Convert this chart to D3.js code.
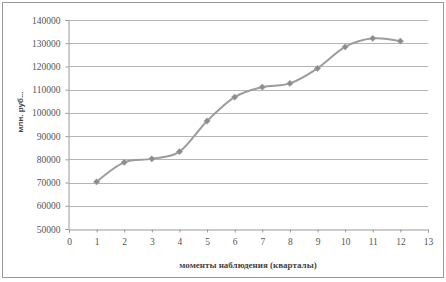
<!DOCTYPE html>
<html>
<head>
<meta charset="utf-8">
<script src="https://cdn.jsdelivr.net/npm/d3@7"></script>
<style>
  body { margin: 0; background: #fff; }
  svg { display: block; }
</style>
</head>
<body>
<svg width="446" height="282"></svg>
<script>
// quarters and values (млн. руб.)
const quarters = [1, 2, 3, 4, 5, 6, 7, 8, 9, 10, 11, 12];
const values = [70300, 78700, 80200, 83300, 96500, 106800, 111100, 112700, 119200, 128400, 132100, 130900];
const xTicks = [0, 1, 2, 3, 4, 5, 6, 7, 8, 9, 10, 11, 12, 13];
const yTicks = [50000, 60000, 70000, 80000, 90000, 100000, 110000, 120000, 130000, 140000];

const svg = d3.select("svg");
const plotLeft = 69, plotRight = 428, plotTop = 20, plotBottom = 229;

// outer frame
svg.append("rect")
    .attr("x", 2.5).attr("y", 2.5)
    .attr("width", 441).attr("height", 275)
    .attr("fill", "#fff")
    .attr("stroke", "#9a9a9a");

const x = d3.scaleLinear().domain([0, 13]).range([plotLeft, plotRight]);
const y = d3.scaleLinear().domain([50000, 140000]).range([plotBottom, plotTop]);

// gridlines
svg.append("g")
    .selectAll("line")
    .data(yTicks.slice(1))
    .enter().append("line")
    .attr("x1", plotLeft).attr("x2", plotRight)
    .attr("y1", d => Math.round(y(d)) + 0.5)
    .attr("y2", d => Math.round(y(d)) + 0.5)
    .attr("stroke", "#b5b5b5");

const yAxis = svg.append("g")
    .attr("transform", `translate(${plotLeft - 0.5},0)`)
    .call(d3.axisLeft(y).tickValues(yTicks).tickSize(3).tickFormat(d3.format("d")));

const xAxis = svg.append("g")
    .attr("transform", `translate(0,${plotBottom + 0.5})`)
    .call(d3.axisBottom(x).tickValues(xTicks).tickSize(3).tickFormat(d3.format("d")));

[yAxis, xAxis].forEach(a => {
    a.select(".domain").attr("stroke", "#999");
    a.selectAll(".tick line").attr("stroke", "#999");
    a.selectAll("text")
        .attr("fill", "#555")
        .style("font-family", "'Liberation Serif', 'DejaVu Serif', serif")
        .style("font-size", "9.5px");
});
yAxis.selectAll("text").attr("x", -8);
xAxis.selectAll("text").attr("y", 9);

// smoothed line
const line = d3.line()
    .x((d, i) => x(quarters[i]))
    .y(d => y(d))
    .curve(d3.curveCatmullRom.alpha(0));

svg.append("path")
    .datum(values)
    .attr("d", line)
    .attr("fill", "none")
    .attr("stroke", "#9c9c9c")
    .attr("stroke-width", 2);

// diamond markers (square turned 45 degrees)
svg.append("g")
    .selectAll("path")
    .data(values)
    .enter().append("path")
    .attr("transform", (d, i) => `translate(${x(quarters[i])},${y(d)}) rotate(45)`)
    .attr("d", d3.symbol().type(d3.symbolSquare).size(20))
    .attr("fill", "#8c8c8c")
    .attr("stroke", "#a5a5a5")
    .attr("stroke-width", 0.6);

// axis titles
svg.append("text")
    .attr("transform", "translate(23,112) rotate(-90)")
    .attr("text-anchor", "middle")
    .attr("fill", "#444")
    .style("font-family", "'Liberation Sans', Arial, sans-serif")
    .style("font-size", "8px")
    .style("font-weight", "bold")
    .text("млн. руб...");

svg.append("text")
    .attr("x", 248).attr("y", 268)
    .attr("text-anchor", "middle")
    .attr("fill", "#444")
    .style("font-family", "'Liberation Serif', 'DejaVu Serif', serif")
    .style("font-size", "9px")
    .style("font-weight", "bold")
    .text("моменты наблюдения (кварталы)");
</script>
</body>
</html>
